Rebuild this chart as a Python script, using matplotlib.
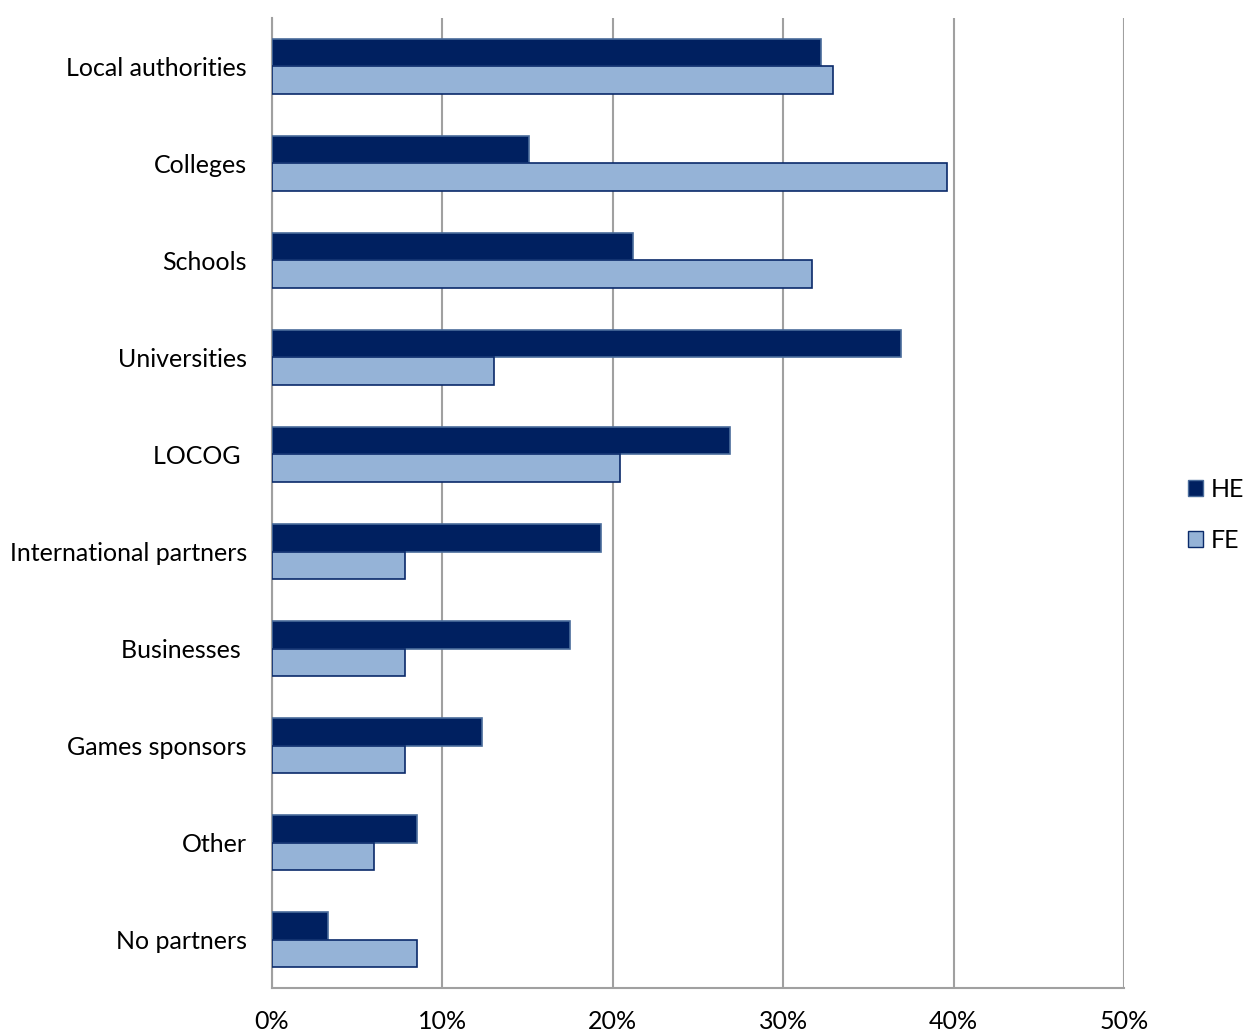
import matplotlib.pyplot as plt
import numpy as np
from matplotlib.patches import Patch

plt.rcParams['font.family'] = ['Lato', 'DejaVu Sans']

categories = ['Local authorities', 'Colleges', 'Schools', 'Universities', 'LOCOG ',
              'International partners', 'Businesses ', 'Games sponsors', 'Other', 'No partners']
he_values = [32.2, 15.1, 21.2, 36.9, 26.9, 19.3, 17.5, 12.3, 8.5, 3.3]
fe_values = [32.9, 39.6, 31.7, 13.0, 20.4, 7.8, 7.8, 7.8, 6.0, 8.5]
x_ticks = [0, 10, 20, 30, 40, 50]

he_color = '#002060'
fe_color = '#95b3d7'

fig = plt.figure(figsize=(12.43, 10.32), dpi=100)
ax = fig.add_axes([0.2188, 0.0426, 0.6855, 0.94])

y = np.arange(len(categories))
h = 0.28
ax.barh(y - h / 2, he_values, height=h, color=he_color, edgecolor='#4a6c9b', linewidth=1.2, zorder=3)
ax.barh(y + h / 2, fe_values, height=h, color=fe_color, edgecolor='#0a2a6a', linewidth=1.2, zorder=3)

ax.set_ylim(len(categories) - 0.5, -0.5)
ax.set_xlim(0, 50)
ax.set_yticks(y)
ax.set_yticklabels(categories, fontsize=18)
ax.set_xticks(x_ticks)
ax.set_xticklabels([f'{t}%' for t in x_ticks], fontsize=18)
ax.tick_params(axis='y', length=0, pad=18)
ax.tick_params(axis='x', length=0, pad=16)

ax.grid(axis='x', color='#a0a0a0', linewidth=1.5, zorder=0)
for s in ['top', 'right']:
    ax.spines[s].set_visible(False)
ax.spines['left'].set_color('#a0a0a0')
ax.spines['left'].set_linewidth(1.5)
ax.spines['bottom'].set_color('#a0a0a0')
ax.spines['bottom'].set_linewidth(1.5)

handles = [Patch(facecolor=he_color, edgecolor='#4a6c9b', label='HE'),
           Patch(facecolor=fe_color, edgecolor='#0a2a6a', label='FE')]
fig.legend(handles=handles, loc='center left', bbox_to_anchor=(0.956, 0.501),
           frameon=False, fontsize=18, handlelength=0.6, handleheight=0.6,
           handletextpad=0.3, labelspacing=1.1, borderaxespad=0, borderpad=0)

fig.savefig('out.png', dpi=100)
